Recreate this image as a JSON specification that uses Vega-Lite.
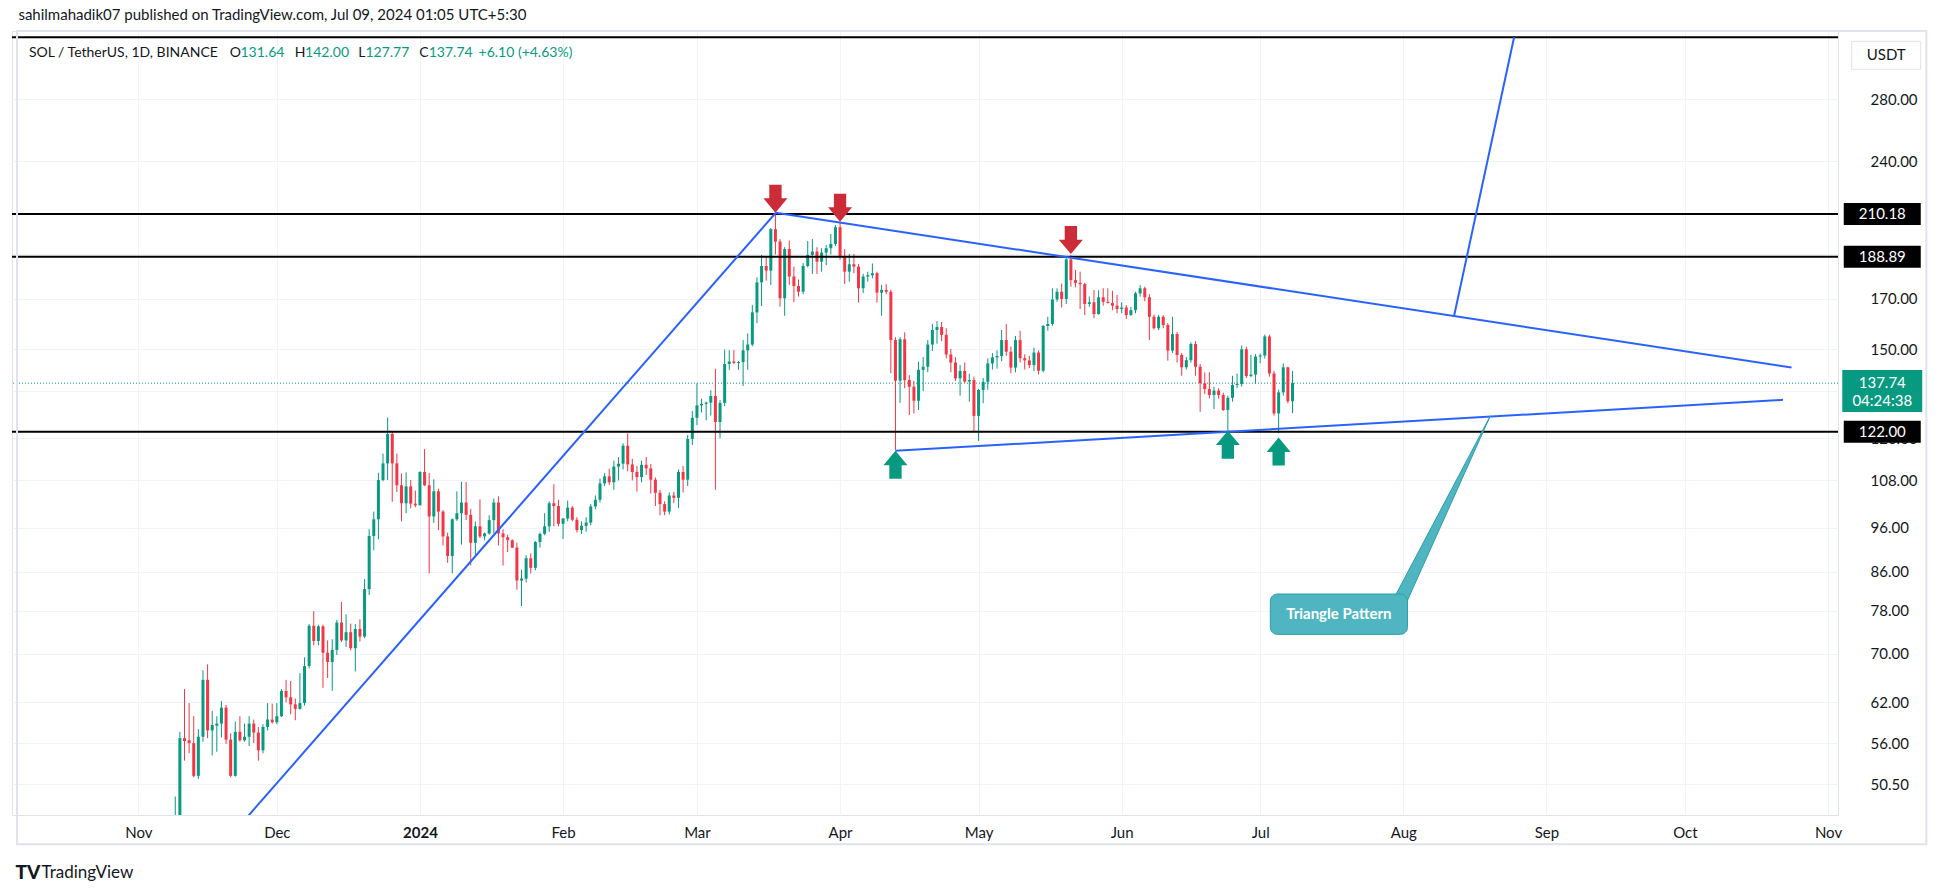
{
"$schema": "https://vega.github.io/schema/vega-lite/v6.json",
"width": 1826, "height": 784,
"autosize": {"type": "none"},
"padding": {"left": 12, "top": 31, "right": 108, "bottom": 78},
"background": "#ffffff",
"config": {"font": "Lato", "view": {"stroke": "#e0e3eb", "strokeWidth": 1}},
"datasets": {
"candles": [
{"d":"2023-11-09","o":44.0,"h":49.0,"l":43.0,"c":46.5},
{"d":"2023-11-10","o":46.5,"h":57.6,"l":45.8,"c":56.7},
{"d":"2023-11-11","o":56.7,"h":64.1,"l":53.6,"c":56.3},
{"d":"2023-11-12","o":56.4,"h":61.9,"l":54.6,"c":56.0},
{"d":"2023-11-13","o":56.0,"h":59.9,"l":51.4,"c":51.6},
{"d":"2023-11-14","o":51.6,"h":58.0,"l":51.2,"c":56.9},
{"d":"2023-11-15","o":56.9,"h":67.2,"l":56.2,"c":65.6},
{"d":"2023-11-16","o":65.6,"h":68.2,"l":56.7,"c":57.8},
{"d":"2023-11-17","o":57.8,"h":60.7,"l":54.3,"c":58.6},
{"d":"2023-11-18","o":58.5,"h":59.9,"l":54.8,"c":58.8},
{"d":"2023-11-19","o":58.8,"h":62.2,"l":56.8,"c":61.2},
{"d":"2023-11-20","o":61.2,"h":61.6,"l":55.9,"c":56.5},
{"d":"2023-11-21","o":56.5,"h":57.4,"l":51.4,"c":51.6},
{"d":"2023-11-22","o":51.6,"h":59.1,"l":51.5,"c":57.6},
{"d":"2023-11-23","o":57.6,"h":59.9,"l":56.2,"c":56.4},
{"d":"2023-11-24","o":56.4,"h":58.8,"l":56.2,"c":56.9},
{"d":"2023-11-25","o":56.9,"h":59.9,"l":55.6,"c":58.8},
{"d":"2023-11-26","o":58.8,"h":59.4,"l":56.0,"c":57.5},
{"d":"2023-11-27","o":57.5,"h":58.3,"l":53.6,"c":55.0},
{"d":"2023-11-28","o":55.0,"h":58.7,"l":54.6,"c":58.3},
{"d":"2023-11-29","o":58.3,"h":61.9,"l":57.8,"c":59.4},
{"d":"2023-11-30","o":59.4,"h":61.8,"l":58.8,"c":59.0},
{"d":"2023-12-01","o":59.0,"h":61.9,"l":58.7,"c":59.9},
{"d":"2023-12-02","o":59.9,"h":64.1,"l":59.8,"c":63.8},
{"d":"2023-12-03","o":63.8,"h":65.6,"l":62.0,"c":62.8},
{"d":"2023-12-04","o":62.8,"h":65.4,"l":60.2,"c":61.7},
{"d":"2023-12-05","o":61.7,"h":62.6,"l":59.3,"c":61.0},
{"d":"2023-12-06","o":61.0,"h":66.7,"l":60.9,"c":61.9},
{"d":"2023-12-07","o":61.9,"h":69.4,"l":61.5,"c":67.9},
{"d":"2023-12-08","o":67.9,"h":75.4,"l":67.5,"c":75.1},
{"d":"2023-12-09","o":75.1,"h":77.9,"l":71.5,"c":72.3},
{"d":"2023-12-10","o":72.3,"h":75.3,"l":71.5,"c":75.0},
{"d":"2023-12-11","o":75.0,"h":75.3,"l":64.3,"c":70.2},
{"d":"2023-12-12","o":70.2,"h":72.4,"l":65.9,"c":68.6},
{"d":"2023-12-13","o":68.6,"h":72.6,"l":63.8,"c":70.7},
{"d":"2023-12-14","o":70.7,"h":76.2,"l":69.8,"c":75.7},
{"d":"2023-12-15","o":75.7,"h":79.7,"l":72.1,"c":72.4},
{"d":"2023-12-16","o":72.4,"h":77.3,"l":71.2,"c":73.9},
{"d":"2023-12-17","o":73.9,"h":75.5,"l":70.6,"c":71.0},
{"d":"2023-12-18","o":71.0,"h":75.4,"l":67.0,"c":74.5},
{"d":"2023-12-19","o":74.5,"h":76.3,"l":72.2,"c":73.1},
{"d":"2023-12-20","o":73.1,"h":84.4,"l":72.8,"c":82.3},
{"d":"2023-12-21","o":82.3,"h":95.6,"l":81.1,"c":94.0},
{"d":"2023-12-22","o":94.0,"h":99.9,"l":90.7,"c":98.0},
{"d":"2023-12-23","o":98.0,"h":110.1,"l":93.2,"c":108.1},
{"d":"2023-12-24","o":108.1,"h":115.5,"l":107.8,"c":112.7},
{"d":"2023-12-25","o":112.7,"h":126.4,"l":108.1,"c":121.3},
{"d":"2023-12-26","o":121.3,"h":122.0,"l":102.4,"c":112.7},
{"d":"2023-12-27","o":112.7,"h":115.5,"l":104.9,"c":106.7},
{"d":"2023-12-28","o":106.7,"h":109.9,"l":97.5,"c":102.0},
{"d":"2023-12-29","o":102.0,"h":110.2,"l":99.5,"c":106.4},
{"d":"2023-12-30","o":106.4,"h":108.1,"l":100.7,"c":101.9},
{"d":"2023-12-31","o":101.9,"h":105.3,"l":101.0,"c":101.5},
{"d":"2024-01-01","o":101.5,"h":110.5,"l":101.4,"c":110.3},
{"d":"2024-01-02","o":110.3,"h":116.8,"l":106.5,"c":106.7},
{"d":"2024-01-03","o":106.7,"h":110.0,"l":85.6,"c":98.7},
{"d":"2024-01-04","o":98.7,"h":108.3,"l":97.1,"c":105.1},
{"d":"2024-01-05","o":105.1,"h":105.8,"l":95.4,"c":99.9},
{"d":"2024-01-06","o":99.9,"h":100.3,"l":91.8,"c":93.9},
{"d":"2024-01-07","o":93.9,"h":94.8,"l":87.9,"c":89.4},
{"d":"2024-01-08","o":89.4,"h":98.2,"l":85.6,"c":98.0},
{"d":"2024-01-09","o":98.0,"h":105.1,"l":97.6,"c":99.5},
{"d":"2024-01-10","o":99.5,"h":107.6,"l":92.0,"c":102.2},
{"d":"2024-01-11","o":102.2,"h":107.6,"l":97.8,"c":99.1},
{"d":"2024-01-12","o":99.1,"h":100.6,"l":87.3,"c":92.4},
{"d":"2024-01-13","o":92.4,"h":97.5,"l":89.6,"c":96.3},
{"d":"2024-01-14","o":96.3,"h":103.0,"l":93.5,"c":93.9},
{"d":"2024-01-15","o":93.9,"h":94.8,"l":93.0,"c":94.6},
{"d":"2024-01-16","o":94.6,"h":99.0,"l":94.3,"c":97.8},
{"d":"2024-01-17","o":97.8,"h":103.2,"l":94.6,"c":102.2},
{"d":"2024-01-18","o":102.2,"h":103.8,"l":91.8,"c":94.6},
{"d":"2024-01-19","o":94.6,"h":95.6,"l":87.3,"c":93.7},
{"d":"2024-01-20","o":93.7,"h":94.3,"l":90.3,"c":93.0},
{"d":"2024-01-21","o":93.0,"h":93.2,"l":91.2,"c":91.3},
{"d":"2024-01-22","o":91.3,"h":92.4,"l":82.2,"c":84.1},
{"d":"2024-01-23","o":84.1,"h":86.4,"l":78.9,"c":84.5},
{"d":"2024-01-24","o":84.5,"h":89.6,"l":83.7,"c":88.9},
{"d":"2024-01-25","o":88.9,"h":90.0,"l":85.6,"c":86.8},
{"d":"2024-01-26","o":86.8,"h":92.8,"l":86.3,"c":92.6},
{"d":"2024-01-27","o":92.6,"h":94.8,"l":91.3,"c":94.5},
{"d":"2024-01-28","o":94.5,"h":99.5,"l":94.2,"c":96.3},
{"d":"2024-01-29","o":96.3,"h":102.5,"l":95.0,"c":102.0},
{"d":"2024-01-30","o":102.0,"h":107.0,"l":96.3,"c":101.3},
{"d":"2024-01-31","o":101.3,"h":102.9,"l":96.3,"c":96.9},
{"d":"2024-02-01","o":96.9,"h":98.3,"l":93.3,"c":98.2},
{"d":"2024-02-02","o":98.2,"h":102.7,"l":97.5,"c":100.9},
{"d":"2024-02-03","o":100.9,"h":101.3,"l":97.5,"c":97.9},
{"d":"2024-02-04","o":97.9,"h":98.5,"l":94.8,"c":95.4},
{"d":"2024-02-05","o":95.4,"h":97.5,"l":94.5,"c":96.4},
{"d":"2024-02-06","o":96.4,"h":98.5,"l":95.0,"c":97.2},
{"d":"2024-02-07","o":97.2,"h":101.8,"l":96.5,"c":101.2},
{"d":"2024-02-08","o":101.2,"h":104.0,"l":100.5,"c":102.9},
{"d":"2024-02-09","o":102.9,"h":108.5,"l":102.2,"c":107.2},
{"d":"2024-02-10","o":107.2,"h":110.0,"l":106.5,"c":109.1},
{"d":"2024-02-11","o":109.1,"h":111.2,"l":106.8,"c":107.5},
{"d":"2024-02-12","o":107.5,"h":113.5,"l":105.5,"c":111.8},
{"d":"2024-02-13","o":111.8,"h":114.5,"l":108.0,"c":112.6},
{"d":"2024-02-14","o":112.6,"h":118.5,"l":111.0,"c":117.8},
{"d":"2024-02-15","o":117.8,"h":121.5,"l":110.5,"c":112.4},
{"d":"2024-02-16","o":112.4,"h":114.0,"l":108.0,"c":110.3},
{"d":"2024-02-17","o":110.3,"h":112.0,"l":105.0,"c":108.9},
{"d":"2024-02-18","o":108.9,"h":113.5,"l":107.5,"c":112.3},
{"d":"2024-02-19","o":112.3,"h":114.5,"l":109.5,"c":111.3},
{"d":"2024-02-20","o":111.3,"h":112.5,"l":104.5,"c":108.2},
{"d":"2024-02-21","o":108.2,"h":108.8,"l":101.3,"c":104.7},
{"d":"2024-02-22","o":104.7,"h":105.5,"l":99.0,"c":101.8},
{"d":"2024-02-23","o":101.8,"h":102.5,"l":99.0,"c":99.9},
{"d":"2024-02-24","o":99.9,"h":104.8,"l":99.2,"c":104.0},
{"d":"2024-02-25","o":104.0,"h":105.0,"l":102.0,"c":103.4},
{"d":"2024-02-26","o":103.4,"h":111.0,"l":100.8,"c":110.3},
{"d":"2024-02-27","o":110.3,"h":112.0,"l":104.8,"c":108.2},
{"d":"2024-02-28","o":108.2,"h":121.0,"l":106.5,"c":119.8},
{"d":"2024-02-29","o":119.8,"h":128.5,"l":118.0,"c":126.3},
{"d":"2024-03-01","o":126.3,"h":137.7,"l":124.0,"c":130.3},
{"d":"2024-03-02","o":130.3,"h":132.5,"l":128.0,"c":130.8},
{"d":"2024-03-03","o":130.8,"h":131.5,"l":125.5,"c":131.2},
{"d":"2024-03-04","o":131.2,"h":135.3,"l":127.0,"c":133.4},
{"d":"2024-03-05","o":133.4,"h":142.8,"l":105.5,"c":125.0},
{"d":"2024-03-06","o":125.0,"h":132.0,"l":120.0,"c":131.1},
{"d":"2024-03-07","o":131.1,"h":149.8,"l":130.0,"c":144.5},
{"d":"2024-03-08","o":144.5,"h":149.6,"l":142.4,"c":145.4},
{"d":"2024-03-09","o":145.4,"h":149.6,"l":144.5,"c":144.9},
{"d":"2024-03-10","o":144.9,"h":145.6,"l":142.4,"c":145.2},
{"d":"2024-03-11","o":145.2,"h":153.4,"l":136.8,"c":149.5},
{"d":"2024-03-12","o":149.5,"h":156.0,"l":142.4,"c":151.7},
{"d":"2024-03-13","o":151.7,"h":167.5,"l":151.0,"c":164.4},
{"d":"2024-03-14","o":164.4,"h":179.4,"l":160.0,"c":177.2},
{"d":"2024-03-15","o":177.2,"h":189.8,"l":167.0,"c":184.6},
{"d":"2024-03-16","o":184.6,"h":188.5,"l":178.0,"c":182.5},
{"d":"2024-03-17","o":182.5,"h":203.0,"l":176.0,"c":202.4},
{"d":"2024-03-18","o":202.4,"h":210.2,"l":190.0,"c":196.2},
{"d":"2024-03-19","o":196.2,"h":197.5,"l":166.8,"c":170.3},
{"d":"2024-03-20","o":170.3,"h":193.5,"l":163.0,"c":192.6},
{"d":"2024-03-21","o":192.6,"h":196.7,"l":176.1,"c":179.8},
{"d":"2024-03-22","o":179.8,"h":184.3,"l":168.6,"c":175.6},
{"d":"2024-03-23","o":175.6,"h":178.5,"l":171.0,"c":173.1},
{"d":"2024-03-24","o":173.1,"h":186.0,"l":172.0,"c":184.6},
{"d":"2024-03-25","o":184.6,"h":196.5,"l":184.0,"c":189.8},
{"d":"2024-03-26","o":189.8,"h":197.5,"l":181.0,"c":191.4},
{"d":"2024-03-27","o":191.4,"h":193.5,"l":181.0,"c":186.6},
{"d":"2024-03-28","o":186.6,"h":193.0,"l":182.0,"c":190.9},
{"d":"2024-03-29","o":190.9,"h":194.5,"l":185.0,"c":193.0},
{"d":"2024-03-30","o":193.0,"h":200.0,"l":190.0,"c":195.1},
{"d":"2024-03-31","o":195.1,"h":204.5,"l":194.0,"c":203.4},
{"d":"2024-04-01","o":203.4,"h":205.7,"l":187.5,"c":189.3},
{"d":"2024-04-02","o":189.3,"h":192.6,"l":176.5,"c":182.0},
{"d":"2024-04-03","o":182.0,"h":190.3,"l":177.5,"c":185.4},
{"d":"2024-04-04","o":185.4,"h":190.3,"l":181.3,"c":184.3},
{"d":"2024-04-05","o":184.3,"h":185.5,"l":168.5,"c":174.6},
{"d":"2024-04-06","o":174.6,"h":181.0,"l":172.5,"c":179.8},
{"d":"2024-04-07","o":179.8,"h":182.0,"l":177.5,"c":180.4},
{"d":"2024-04-08","o":180.4,"h":185.8,"l":179.0,"c":181.3},
{"d":"2024-04-09","o":181.3,"h":182.0,"l":168.5,"c":172.7},
{"d":"2024-04-10","o":172.7,"h":176.1,"l":163.0,"c":173.9},
{"d":"2024-04-11","o":173.9,"h":176.4,"l":172.0,"c":173.1},
{"d":"2024-04-12","o":173.1,"h":174.0,"l":141.2,"c":153.4},
{"d":"2024-04-13","o":153.4,"h":154.5,"l":116.5,"c":138.6},
{"d":"2024-04-14","o":138.6,"h":154.5,"l":131.1,"c":153.7},
{"d":"2024-04-15","o":153.7,"h":156.4,"l":136.0,"c":138.8},
{"d":"2024-04-16","o":138.8,"h":140.5,"l":127.2,"c":136.5},
{"d":"2024-04-17","o":136.5,"h":138.5,"l":127.7,"c":131.8},
{"d":"2024-04-18","o":131.8,"h":145.3,"l":128.8,"c":142.4},
{"d":"2024-04-19","o":142.4,"h":147.0,"l":135.0,"c":143.5},
{"d":"2024-04-20","o":143.5,"h":153.4,"l":141.5,"c":151.7},
{"d":"2024-04-21","o":151.7,"h":159.7,"l":149.3,"c":157.3},
{"d":"2024-04-22","o":157.3,"h":160.8,"l":152.0,"c":158.5},
{"d":"2024-04-23","o":158.5,"h":160.5,"l":153.0,"c":155.4},
{"d":"2024-04-24","o":155.4,"h":158.0,"l":146.5,"c":148.0},
{"d":"2024-04-25","o":148.0,"h":150.0,"l":141.5,"c":145.0},
{"d":"2024-04-26","o":145.0,"h":147.0,"l":138.5,"c":139.4},
{"d":"2024-04-27","o":139.4,"h":144.1,"l":133.5,"c":142.0},
{"d":"2024-04-28","o":142.0,"h":145.0,"l":137.8,"c":138.3},
{"d":"2024-04-29","o":138.3,"h":141.0,"l":131.5,"c":138.8},
{"d":"2024-04-30","o":138.8,"h":140.0,"l":121.9,"c":126.9},
{"d":"2024-05-01","o":126.9,"h":135.8,"l":119.2,"c":135.4},
{"d":"2024-05-02","o":135.4,"h":139.5,"l":131.0,"c":138.2},
{"d":"2024-05-03","o":138.2,"h":146.5,"l":135.5,"c":144.7},
{"d":"2024-05-04","o":144.7,"h":148.5,"l":142.5,"c":146.9},
{"d":"2024-05-05","o":146.9,"h":149.5,"l":142.8,"c":147.4},
{"d":"2024-05-06","o":147.4,"h":157.3,"l":145.5,"c":153.4},
{"d":"2024-05-07","o":153.4,"h":159.7,"l":147.5,"c":149.0},
{"d":"2024-05-08","o":149.0,"h":151.0,"l":141.2,"c":143.2},
{"d":"2024-05-09","o":143.2,"h":155.0,"l":141.5,"c":153.4},
{"d":"2024-05-10","o":153.4,"h":157.0,"l":145.0,"c":146.6},
{"d":"2024-05-11","o":146.6,"h":148.0,"l":142.5,"c":145.8},
{"d":"2024-05-12","o":145.8,"h":147.5,"l":143.0,"c":144.1},
{"d":"2024-05-13","o":144.1,"h":150.5,"l":142.0,"c":148.7},
{"d":"2024-05-14","o":148.7,"h":149.5,"l":140.8,"c":142.1},
{"d":"2024-05-15","o":142.1,"h":159.3,"l":141.5,"c":158.9},
{"d":"2024-05-16","o":158.9,"h":162.6,"l":157.0,"c":159.7},
{"d":"2024-05-17","o":159.7,"h":174.6,"l":159.0,"c":169.8},
{"d":"2024-05-18","o":169.8,"h":174.6,"l":168.8,"c":173.1},
{"d":"2024-05-19","o":173.1,"h":176.7,"l":166.4,"c":170.0},
{"d":"2024-05-20","o":170.0,"h":188.9,"l":167.9,"c":187.7},
{"d":"2024-05-21","o":187.7,"h":189.7,"l":175.3,"c":178.2},
{"d":"2024-05-22","o":178.2,"h":182.8,"l":175.0,"c":177.0},
{"d":"2024-05-23","o":177.0,"h":182.0,"l":165.8,"c":176.4},
{"d":"2024-05-24","o":176.4,"h":177.0,"l":163.3,"c":167.9},
{"d":"2024-05-25","o":167.9,"h":171.0,"l":166.7,"c":168.6},
{"d":"2024-05-26","o":168.6,"h":173.8,"l":162.0,"c":163.7},
{"d":"2024-05-27","o":163.7,"h":173.8,"l":163.5,"c":170.7},
{"d":"2024-05-28","o":170.7,"h":174.6,"l":167.2,"c":168.8},
{"d":"2024-05-29","o":168.8,"h":174.6,"l":168.1,"c":168.3},
{"d":"2024-05-30","o":168.3,"h":173.5,"l":165.3,"c":167.2},
{"d":"2024-05-31","o":167.2,"h":171.7,"l":164.0,"c":165.8},
{"d":"2024-06-01","o":165.8,"h":168.6,"l":164.0,"c":166.4},
{"d":"2024-06-02","o":166.4,"h":167.4,"l":161.7,"c":163.3},
{"d":"2024-06-03","o":163.3,"h":166.7,"l":163.0,"c":165.3},
{"d":"2024-06-04","o":165.3,"h":173.1,"l":164.0,"c":172.4},
{"d":"2024-06-05","o":172.4,"h":176.0,"l":171.0,"c":174.6},
{"d":"2024-06-06","o":174.6,"h":175.3,"l":169.0,"c":170.7},
{"d":"2024-06-07","o":170.7,"h":172.0,"l":153.4,"c":162.6},
{"d":"2024-06-08","o":162.6,"h":163.5,"l":157.5,"c":158.0},
{"d":"2024-06-09","o":158.0,"h":163.3,"l":157.3,"c":162.6},
{"d":"2024-06-10","o":162.6,"h":163.3,"l":158.0,"c":159.3},
{"d":"2024-06-11","o":159.3,"h":160.0,"l":145.7,"c":149.4},
{"d":"2024-06-12","o":149.4,"h":162.6,"l":148.5,"c":155.7},
{"d":"2024-06-13","o":155.7,"h":156.5,"l":145.0,"c":147.8},
{"d":"2024-06-14","o":147.8,"h":148.5,"l":140.3,"c":143.3},
{"d":"2024-06-15","o":143.3,"h":147.0,"l":142.5,"c":145.9},
{"d":"2024-06-16","o":145.9,"h":152.5,"l":145.0,"c":151.9},
{"d":"2024-06-17","o":151.9,"h":153.0,"l":140.3,"c":143.5},
{"d":"2024-06-18","o":143.5,"h":144.5,"l":128.2,"c":137.7},
{"d":"2024-06-19","o":137.7,"h":141.5,"l":134.0,"c":135.7},
{"d":"2024-06-20","o":135.7,"h":141.5,"l":132.6,"c":133.7},
{"d":"2024-06-21","o":133.7,"h":136.5,"l":129.1,"c":135.2},
{"d":"2024-06-22","o":135.2,"h":136.0,"l":132.5,"c":133.7},
{"d":"2024-06-23","o":133.7,"h":134.5,"l":128.5,"c":128.8},
{"d":"2024-06-24","o":128.8,"h":133.5,"l":122.3,"c":132.8},
{"d":"2024-06-25","o":132.8,"h":140.3,"l":131.5,"c":137.1},
{"d":"2024-06-26","o":137.1,"h":141.1,"l":136.0,"c":137.5},
{"d":"2024-06-27","o":137.5,"h":151.3,"l":136.5,"c":149.9},
{"d":"2024-06-28","o":149.9,"h":150.9,"l":139.5,"c":140.2},
{"d":"2024-06-29","o":140.2,"h":147.8,"l":139.8,"c":140.7},
{"d":"2024-06-30","o":140.7,"h":148.1,"l":137.5,"c":147.2},
{"d":"2024-07-01","o":147.2,"h":148.3,"l":144.8,"c":147.6},
{"d":"2024-07-02","o":147.6,"h":155.5,"l":146.5,"c":154.8},
{"d":"2024-07-03","o":154.8,"h":155.5,"l":140.0,"c":141.1},
{"d":"2024-07-04","o":141.1,"h":142.0,"l":127.0,"c":127.7},
{"d":"2024-07-05","o":127.7,"h":135.5,"l":121.5,"c":134.6},
{"d":"2024-07-06","o":134.6,"h":144.7,"l":133.5,"c":143.3},
{"d":"2024-07-07","o":143.3,"h":143.5,"l":131.0,"c":131.64},
{"d":"2024-07-08","o":131.64,"h":142.0,"l":127.77,"c":137.74}
],
"trend": [
{"id":"rise","d":"2023-11-21T00:00:00Z","p":44.4},
{"id":"rise","d":"2024-03-18T02:00:00Z","p":210.9},
{"id":"upper","d":"2024-03-18T02:00:00Z","p":210.9},
{"id":"upper","d":"2024-10-24T02:24:00Z","p":143.2},
{"id":"lower","d":"2024-04-13T00:00:00Z","p":116.3},
{"id":"lower","d":"2024-10-22T06:00:00Z","p":132.1},
{"id":"target","d":"2024-08-12T00:00:00Z","p":162.9},
{"id":"target","d":"2024-08-25T00:00:00Z","p":327}
],
"legend": [
{"t":"SOL / TetherUS, 1D, BINANCE","d":"2023-10-08T07:16:00Z","k":"a"},
{"t":"O","d":"2023-11-20T19:08:00Z","k":"a"},
{"t":"131.64","d":"2023-11-23T02:59:00Z","k":"b"},
{"t":"H","d":"2023-12-04T21:16:00Z","k":"a"},
{"t":"142.00","d":"2023-12-07T03:03:00Z","k":"b"},
{"t":"L","d":"2023-12-18T14:37:00Z","k":"a"},
{"t":"127.77","d":"2023-12-20T04:22:00Z","k":"b"},
{"t":"C","d":"2023-12-31T20:36:00Z","k":"a"},
{"t":"137.74","d":"2024-01-02T21:42:00Z","k":"b"},
{"t":"+6.10 (+4.63%)","d":"2024-01-13T16:31:00Z","k":"b"}
]
},
"layer": [
{"data": {"values": [{"p": 137.74}]},
 "mark": {"type": "rule", "color": "#089981", "strokeWidth": 1, "strokeDash": [1, 2]},
 "encoding": {"y": {"field": "p", "type": "quantitative", "scale": {"type": "log", "domain": [46.79, 332.2], "nice": false, "zero": false}}}},
{"data": {"name": "candles"},
 "mark": {"type": "rule", "clip": true, "strokeWidth": 1},
 "encoding": {
  "x": {"field": "d", "type": "temporal",
   "scale": {"type": "utc", "domain": [{"year":2023,"month":10,"date":5,"hours":17,"minutes":14,"utc":true},{"year":2024,"month":11,"date":2,"hours":1,"minutes":55,"utc":true}], "nice": false},
   "axis": {"values": [{"year":2023,"month":11,"date":1,"utc":true},{"year":2023,"month":12,"date":1,"utc":true},{"year":2024,"month":1,"date":1,"utc":true},{"year":2024,"month":2,"date":1,"utc":true},{"year":2024,"month":3,"date":1,"utc":true},{"year":2024,"month":4,"date":1,"utc":true},{"year":2024,"month":5,"date":1,"utc":true},{"year":2024,"month":6,"date":1,"utc":true},{"year":2024,"month":7,"date":1,"utc":true},{"year":2024,"month":8,"date":1,"utc":true},{"year":2024,"month":9,"date":1,"utc":true},{"year":2024,"month":10,"date":1,"utc":true},{"year":2024,"month":11,"date":1,"utc":true}],
    "labelExpr": "utcmonth(datum.value) === 0 ? utcFormat(datum.value, '%Y') : utcFormat(datum.value, '%b')",
    "labelFontWeight": {"condition": {"test": "utcmonth(datum.value) === 0", "value": "bold"}, "value": "normal"},
    "grid": true, "gridColor": "#f0f3fa", "domain": false, "ticks": false, "labelPadding": 10, "labelFontSize": 15, "labelColor": "#131722", "labelOverlap": false, "labelFlush": false,
    "title": "TradingView", "titleX": 29, "titleY": 57, "titleAlign": "left", "titleBaseline": "middle", "titleFontSize": 17, "titleFontWeight": "normal", "titleColor": "#131722"}},
  "y": {"field": "l", "type": "quantitative",
   "scale": {"type": "log", "domain": [46.79, 332.2], "nice": false, "zero": false},
   "axis": {"orient": "right", "values": [50.5, 56, 62, 70, 78, 86, 96, 108, 120, 135, 150, 170, 190, 210, 240, 280], "format": ".2f",
    "labelExpr": "(datum.value == 135 || datum.value == 190 || datum.value == 210) ? '' : datum.label",
    "grid": true, "gridColor": "#f0f3fa", "domain": false, "ticks": false, "labelPadding": 32, "labelFontSize": 15, "labelColor": "#131722", "labelAlign": "left", "labelBaseline": "middle", "labelOverlap": false, "labelFlush": false,
    "title": "TV", "titleAngle": 0, "titleX": -1823, "titleY": 841, "titleAlign": "left", "titleBaseline": "middle", "titleFontSize": 19, "titleFontWeight": 900, "titleColor": "#131722"}},
  "y2": {"field": "h"},
  "color": {"condition": {"test": "datum.c >= datum.o", "value": "#089981"}, "value": "#f23645"}}},
{"data": {"name": "candles"},
 "mark": {"type": "bar", "clip": true, "width": 3},
 "encoding": {
  "x": {"field": "d", "type": "temporal"},
  "y": {"field": "o", "type": "quantitative"},
  "y2": {"field": "c"},
  "color": {"condition": {"test": "datum.c >= datum.o", "value": "#089981"}, "value": "#f23645"}}},
{"data": {"values": [{"p": 327}, {"p": 210.18}, {"p": 188.89}, {"p": 122}]},
 "mark": {"type": "rule", "color": "#000000", "strokeWidth": 2},
 "encoding": {"y": {"field": "p", "type": "quantitative"}}},
{"data": {"name": "trend"},
 "mark": {"type": "line", "clip": true, "color": "#2962ff", "strokeWidth": 2},
 "encoding": {
  "x": {"field": "d", "type": "temporal"},
  "y": {"field": "p", "type": "quantitative"},
  "detail": {"field": "id"}}},
{"data": {"values": [{"d": "2024-03-18", "p": 210.9}, {"d": "2024-04-01", "p": 206.2}, {"d": "2024-05-21", "p": 190.2}]},
 "mark": {"type": "point", "shape": "M0,0L-0.857,-1.03L-0.44,-1.03L-0.44,-2L0.44,-2L0.44,-1.03L0.857,-1.03Z", "size": 784, "filled": true, "opacity": 1, "color": "#cc2c38"},
 "encoding": {"x": {"field": "d", "type": "temporal"}, "y": {"field": "p", "type": "quantitative"}}},
{"data": {"values": [{"d": "2024-04-13", "p": 116.3}, {"d": "2024-06-24", "p": 122.3}, {"d": "2024-07-05", "p": 120.2}]},
 "mark": {"type": "point", "shape": "M0,0L-0.857,1.03L-0.44,1.03L-0.44,2L0.44,2L0.44,1.03L0.857,1.03Z", "size": 784, "filled": true, "opacity": 1, "color": "#089981"},
 "encoding": {"x": {"field": "d", "type": "temporal"}, "y": {"field": "p", "type": "quantitative"}}},
{"data": {"values": [{"d": "2024-08-19T20:24:00Z", "p": 126.9}]},
 "mark": {"type": "point", "shape": "M0,0L-0.941,1.78L-0.96,1.95L-0.834,1.95L-0.834,1.857Z", "size": 40000, "filled": true, "opacity": 1, "fill": "#4fb6c1", "stroke": "#2b9ea9", "strokeWidth": 1},
 "encoding": {"x": {"field": "d", "type": "temporal"}, "y": {"field": "p", "type": "quantitative"}}},
{"data": {"values": [{"d": "2024-07-03T04:48:00Z", "d2": "2024-08-01T21:36:00Z", "p": 81.3, "p2": 73.5}]},
 "mark": {"type": "rect", "cornerRadius": 7, "fill": "#4fb6c1", "stroke": "#2b9ea9", "strokeWidth": 1},
 "encoding": {"x": {"field": "d", "type": "temporal"}, "x2": {"field": "d2"}, "y": {"field": "p", "type": "quantitative"}, "y2": {"field": "p2"}}},
{"data": {"values": [{"d": "2024-07-18T01:00:00Z", "p": 77.3, "t": "Triangle Pattern"}]},
 "mark": {"type": "text", "color": "#ffffff", "fontSize": 15, "fontWeight": "bold", "align": "center", "baseline": "middle"},
 "encoding": {"x": {"field": "d", "type": "temporal"}, "y": {"field": "p", "type": "quantitative"}, "text": {"field": "t"}}},
{"data": {"name": "legend"},
 "mark": {"type": "text", "fontSize": 14, "align": "left", "baseline": "middle"},
 "encoding": {"x": {"field": "d", "type": "temporal"}, "y": {"datum": 314.4, "type": "quantitative"}, "text": {"field": "t"},
  "color": {"field": "k", "type": "nominal", "scale": {"domain": ["a", "b"], "range": ["#131722", "#089981"]}, "legend": null}}},
{"data": {"values": [{"d": "2023-10-06T00:29:00Z", "p": 345.8, "t": "sahilmahadik07 published on TradingView.com, Jul 09, 2024 01:05 UTC+5:30"}]},
 "mark": {"type": "text", "clip": false, "color": "#131722", "fontSize": 15, "align": "left", "baseline": "middle"},
 "encoding": {"x": {"field": "d", "type": "temporal"}, "y": {"field": "p", "type": "quantitative"}, "text": {"field": "t"}}},
{"data": {"values": [{"d": "2023-10-05T17:14:00Z", "d2": "2024-11-22T07:12:00Z", "p": 332.2, "p2": 43.5}]},
 "mark": {"type": "rect", "clip": false, "fillOpacity": 0, "stroke": "#e0e3eb", "strokeWidth": 2},
 "encoding": {"x": {"field": "d", "type": "temporal"}, "x2": {"field": "d2"}, "y": {"field": "p", "type": "quantitative"}, "y2": {"field": "p2"}}},
{"data": {"values": [{"d": "2024-11-12T18:00:00Z", "p": 210.18}, {"d": "2024-11-12T18:00:00Z", "p": 188.89}, {"d": "2024-11-12T18:00:00Z", "p": 122}]},
 "mark": {"type": "point", "clip": false, "shape": "M-1.75,-0.5L1.75,-0.5L1.75,0.5L-1.75,0.5Z", "size": 1936, "filled": true, "opacity": 1, "color": "#000000"},
 "encoding": {"x": {"field": "d", "type": "temporal"}, "y": {"field": "p", "type": "quantitative"}}},
{"data": {"values": [{"d": "2024-11-12T18:00:00Z", "p": 135.1}]},
 "mark": {"type": "point", "clip": false, "shape": "M-0.952,-0.5L0.952,-0.5L0.952,0.5L-0.952,0.5Z", "size": 7056, "filled": true, "opacity": 1, "color": "#089981"},
 "encoding": {"x": {"field": "d", "type": "temporal"}, "y": {"field": "p", "type": "quantitative"}}},
{"data": {"values": [{"d": "2024-11-13T14:24:00Z", "p": 312.6}]},
 "mark": {"type": "point", "clip": false, "shape": "M-1.23,-0.5L1.23,-0.5L1.23,0.5L-1.23,0.5Z", "size": 3136, "filled": true, "opacity": 1, "fill": "#ffffff", "stroke": "#e0e3eb", "strokeWidth": 1},
 "encoding": {"x": {"field": "d", "type": "temporal"}, "y": {"field": "p", "type": "quantitative"}}},
{"data": {"values": [{"d": "2024-11-12T18:00:00Z", "p": 210.18, "t": "210.18"}, {"d": "2024-11-12T18:00:00Z", "p": 188.89, "t": "188.89"}, {"d": "2024-11-12T18:00:00Z", "p": 122, "t": "122.00"}, {"d": "2024-11-12T18:00:00Z", "p": 137.74, "t": "137.74"}, {"d": "2024-11-12T18:00:00Z", "p": 131.8, "t": "04:24:38"}]},
 "mark": {"type": "text", "clip": false, "color": "#ffffff", "fontSize": 15, "align": "center", "baseline": "middle"},
 "encoding": {"x": {"field": "d", "type": "temporal"}, "y": {"field": "p", "type": "quantitative"}, "text": {"field": "t"}}},
{"data": {"values": [{"d": "2024-11-13T14:24:00Z", "p": 312.6, "t": "USDT"}]},
 "mark": {"type": "text", "clip": false, "color": "#131722", "fontSize": 15, "align": "center", "baseline": "middle"},
 "encoding": {"x": {"field": "d", "type": "temporal"}, "y": {"field": "p", "type": "quantitative"}, "text": {"field": "t"}}}
]
}
